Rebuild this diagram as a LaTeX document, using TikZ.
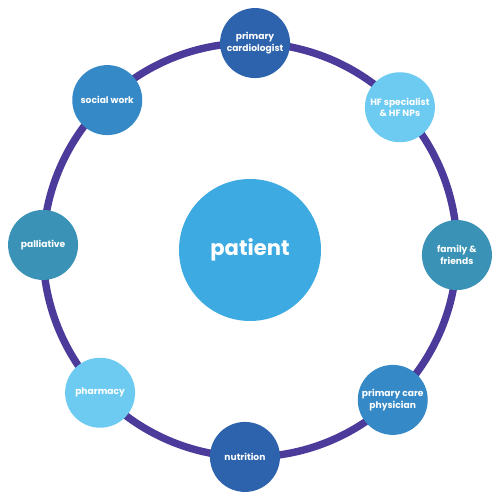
\documentclass[tikz,border=0pt]{standalone}
\usepackage{fontspec}
\setmainfont{Poppins}
\usepackage{tikz}
\usetikzlibrary{positioning}

\definecolor{ringpurple}{HTML}{4C3B9A}
\definecolor{deepblue}{HTML}{2D62AC}
\definecolor{skyblue}{HTML}{6DCBF1}
\definecolor{tealblue}{HTML}{3A93B6}
\definecolor{midblue}{HTML}{3589C7}
\definecolor{patientblue}{HTML}{3DABE2}

\tikzset{
	member/.style={circle,minimum size=1.4cm,inner sep=0pt,text=white,align=center,
		font=\fontsize{5.2}{6.6}\selectfont\bfseries},
	ring/.style={draw=ringpurple,line width=4.2pt}
}

\begin{document}
\begin{tikzpicture}
	\useasboundingbox (0,0) rectangle (10,10);
	\node [circle,fill=patientblue,minimum size=2.84cm,text=white,font=\fontsize{12}{14}\selectfont\bfseries] (patient) at (5,5) {patient};
	\draw [ring] (patient.center) circle (4.14cm);
	\node [member,fill=deepblue]  (cardio)    at ([shift={(88.6:4.14)}]patient.center)  {primary\\cardiologist};
	\node [member,fill=skyblue]   (hf)        at ([shift={(43.6:4.14)}]patient.center)  {HF specialist\\\& HF NPs};
	\node [member,fill=tealblue]  (family)    at ([shift={(-1.4:4.14)}]patient.center)  {family \&\\friends};
	\node [member,fill=midblue]   (pcp)       at ([shift={(-46.4:4.14)}]patient.center) {primary care\\physician};
	\node [member,fill=deepblue]  (nutrition) at ([shift={(-91.4:4.14)}]patient.center) {nutrition};
	\node [member,fill=skyblue]   (pharmacy)  at ([shift={(-136.4:4.14)}]patient.center) {pharmacy};
	\node [member,fill=tealblue]  (palliative) at ([shift={(178.6:4.14)}]patient.center) {palliative};
	\node [member,fill=midblue]   (social)    at ([shift={(133.6:4.14)}]patient.center) {social work};
\end{tikzpicture}
\end{document}
